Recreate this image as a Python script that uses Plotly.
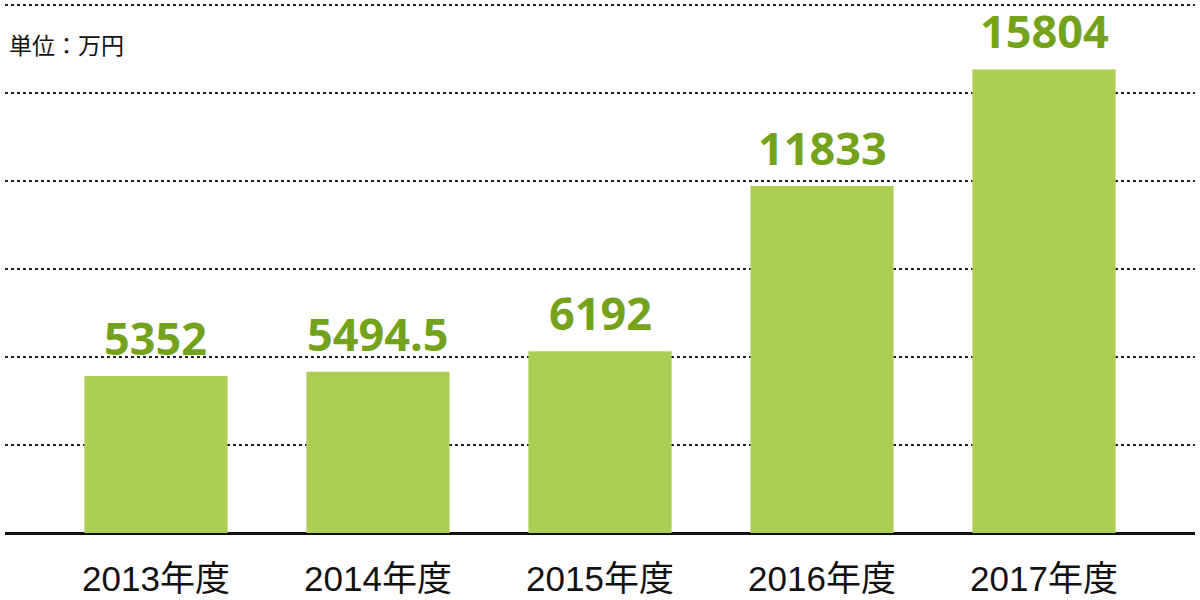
import plotly.graph_objects as go

categories = ["2013年度", "2014年度", "2015年度", "2016年度", "2017年度"]
values = [5352, 5494.5, 6192, 11833, 15804]
value_labels = ["5352", "5494.5", "6192", "11833", "15804"]
unit_label = "単位：万円"
grid_top = 18000

xs = list(range(len(categories)))

fig = go.Figure()
fig.add_trace(go.Bar(
    x=xs, y=values, width=0.645,
    marker=dict(color="#abcf54", line=dict(width=0)),
    hoverinfo="skip",
))

for x, v, t in zip(xs, values, value_labels):
    fig.add_annotation(
        x=x, y=v, text=t, showarrow=False, yanchor="bottom", yshift=6,
        font=dict(family="Open Sans, Noto Sans, sans-serif", size=45, color="#74a31b", weight="bold"),
    )

fig.add_annotation(
    xref="paper", yref="paper", x=0.0, y=0.9155, xanchor="left", yanchor="middle",
    xshift=2, text=unit_label, showarrow=False,
    font=dict(family="Liberation Sans, Noto Sans CJK JP, sans-serif", size=23, color="#111111"),
)

fig.add_shape(
    type="line", xref="paper", yref="y", x0=0, x1=1, y0=grid_top, y1=grid_top,
    line=dict(color="#222222", width=2, dash="dot"), layer="below",
)

fig.update_layout(
    width=1200, height=600,
    margin=dict(l=5, r=5, t=1, b=67),
    paper_bgcolor="white", plot_bgcolor="white",
    showlegend=False,
    xaxis=dict(
        range=[-0.68, 4.68], tickvals=xs, ticktext=categories,
        showgrid=False, zeroline=False, showline=False, ticks="",
        tickfont=dict(family="Liberation Sans, Noto Sans CJK JP, sans-serif", size=35, color="#111111"),
        ticklabelstandoff=22, automargin=False,
        fixedrange=True,
    ),
    yaxis=dict(
        range=[0, 18136], dtick=3000, showticklabels=False,
        showgrid=True, gridcolor="#222222", griddash="dot", gridwidth=2,
        zeroline=True, zerolinecolor="#111111", zerolinewidth=3,
        ticks="", fixedrange=True, automargin=False,
    ),
)

fig.write_html(
    "out.html",
    config={"displayModeBar": False, "staticPlot": True},
    post_script="document.body.style.margin='0';document.body.style.padding='0';",
)
